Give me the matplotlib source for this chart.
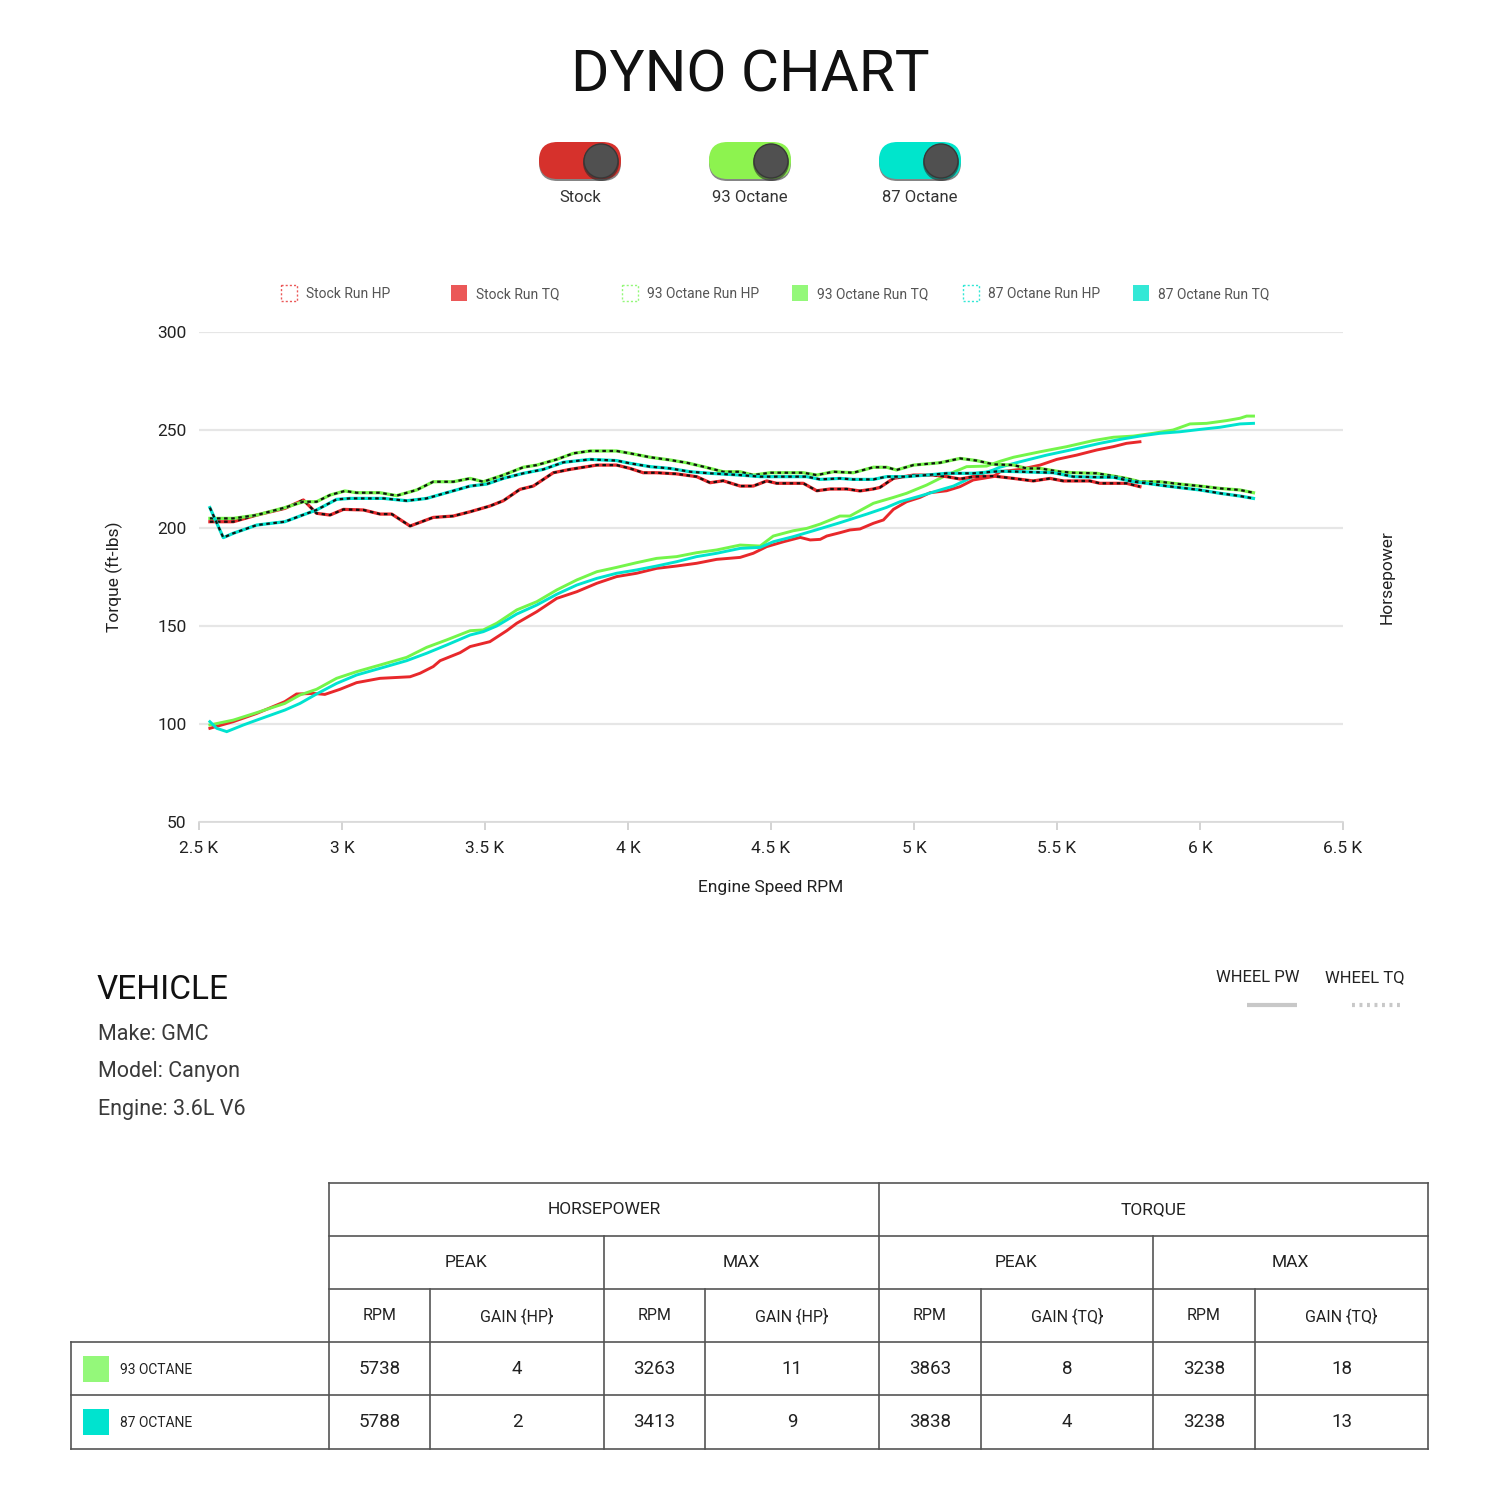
import matplotlib
matplotlib.use("Agg")
import matplotlib.pyplot as plt
from matplotlib.patches import FancyBboxPatch, Rectangle, Circle

# ── 数据 ──
stock_hp_rpm = [2538, 2620, 2702, 2800, 2865, 2911, 2958, 3005, 3075, 3133,
                3174, 3238, 3319, 3389, 3448, 3517, 3564, 3622, 3669, 3739,
                3797, 3844, 3891, 3960, 4007, 4053, 4100, 4170, 4240, 4287,
                4333, 4392, 4438, 4485, 4520, 4613, 4660, 4707, 4765, 4811,
                4858, 4881, 4928, 4998, 5068, 5114, 5161, 5207, 5277, 5348,
                5417, 5476, 5522, 5615, 5650, 5743, 5790]
stock_hp = [203.2, 203.2, 206.6, 210.0, 214.3, 207.5, 206.6, 209.5, 209.2, 207.1,
            207.1, 201.0, 205.4, 206.1, 208.3, 211.2, 213.9, 219.7, 221.4, 228.2,
            229.9, 231.0, 232.1, 232.1, 230.4, 228.2, 228.2, 227.6, 226.2, 223.1,
            224.1, 221.4, 221.4, 224.0, 222.8, 222.8, 219.0, 219.9, 219.9, 218.9,
            219.9, 220.7, 225.3, 227.0, 227.0, 226.2, 225.0, 226.2, 226.5, 225.3,
            224.0, 225.3, 224.0, 224.0, 222.8, 222.8, 221.1]

stock_tq_rpm = [2538, 2620, 2702, 2800, 2841, 2900, 2940, 2993, 3051, 3133,
                3238, 3273, 3319, 3343, 3413, 3448, 3517, 3576, 3611, 3681,
                3751, 3821, 3891, 3960, 4030, 4100, 4170, 4240, 4310, 4392,
                4438, 4485, 4544, 4602, 4637, 4672, 4695, 4741, 4776, 4811,
                4858, 4893, 4928, 4974, 5021, 5056, 5114, 5161, 5207, 5277,
                5301, 5371, 5441, 5499, 5569, 5639, 5697, 5743, 5790]
stock_tq = [97.8, 101.2, 105.4, 111.4, 115.3, 115.6, 115.1, 117.7, 121.1, 123.3,
            124.1, 125.9, 129.3, 132.3, 136.4, 139.5, 142.0, 147.6, 151.4, 157.3,
            164.1, 167.5, 171.8, 175.2, 176.9, 179.4, 180.6, 182.0, 184.0, 185.0,
            187.1, 190.5, 193.0, 195.2, 193.9, 194.2, 195.9, 197.6, 199.0, 199.5,
            202.4, 204.1, 209.5, 213.4, 215.6, 218.0, 219.0, 221.1, 224.5, 226.2,
            228.7, 229.9, 232.1, 235.0, 237.2, 239.8, 241.5, 243.2, 244.0]

oct93_hp_rpm = [2538, 2620, 2702, 2800, 2865, 2911, 2958, 3010, 3051, 3133,
                3191, 3261, 3319, 3389, 3448, 3494, 3564, 3634, 3681, 3751,
                3809, 3867, 3960, 4007, 4077, 4147, 4205, 4263, 4333, 4392,
                4438, 4497, 4613, 4660, 4718, 4788, 4858, 4904, 4939, 4998,
                5091, 5161, 5219, 5277, 5348, 5394, 5441, 5511, 5557, 5639,
                5697, 5743, 5790, 5860, 5930, 6000, 6070, 6140, 6187]
oct93_hp = [204.9, 204.9, 206.6, 210.4, 213.4, 213.4, 216.8, 218.9, 218.0, 218.0,
            216.5, 219.4, 223.6, 223.6, 225.3, 223.6, 227.0, 231.0, 232.1, 235.0,
            238.1, 239.3, 239.3, 238.1, 236.1, 234.7, 233.3, 231.3, 228.7, 228.7,
            227.0, 228.2, 228.2, 227.0, 228.7, 228.2, 231.0, 231.0, 229.6, 232.1,
            233.3, 235.5, 234.4, 232.5, 232.1, 230.4, 230.4, 228.7, 228.2, 227.9,
            226.5, 225.3, 223.6, 223.6, 222.4, 221.4, 220.2, 219.4, 218.0]

oct93_tq_rpm = [2538, 2620, 2702, 2800, 2853, 2911, 2981, 3051, 3133, 3226,
                3296, 3366, 3448, 3494, 3541, 3611, 3681, 3751, 3821, 3891,
                3960, 4030, 4100, 4170, 4240, 4310, 4392, 4462, 4508, 4578,
                4625, 4672, 4741, 4776, 4858, 4928, 4974, 5044, 5114, 5184,
                5254, 5300, 5348, 5441, 5534, 5627, 5697, 5767, 5836, 5906,
                5965, 6023, 6093, 6140, 6163, 6187]
oct93_tq = [99.5, 102.0, 105.8, 110.5, 114.8, 117.7, 123.3, 126.7, 130.1, 134.0,
            139.1, 142.9, 147.6, 148.0, 151.4, 158.2, 162.4, 168.4, 173.5, 177.7,
            179.9, 182.3, 184.5, 185.4, 187.4, 188.8, 191.3, 190.8, 195.9, 198.6,
            199.8, 202.0, 206.1, 206.1, 212.6, 215.6, 217.7, 221.9, 227.0, 231.3,
            231.6, 234.0, 236.1, 238.9, 241.5, 244.6, 246.3, 246.9, 248.3, 250.0,
            253.1, 253.4, 254.8, 256.0, 257.1, 257.1]

oct87_hp_rpm = [2538, 2585, 2620, 2702, 2800, 2853, 2911, 2981, 3028, 3145,
                3226, 3296, 3366, 3448, 3506, 3564, 3634, 3704, 3774, 3867,
                3960, 4007, 4077, 4147, 4217, 4287, 4392, 4462, 4625, 4672,
                4741, 4788, 4858, 4904, 4974, 5044, 5114, 5207, 5301, 5371,
                5487, 5557, 5650, 5697, 5767, 5813, 5883, 5953, 6000, 6070,
                6140, 6187]
oct87_hp = [210.4, 195.1, 197.3, 201.5, 203.2, 206.1, 209.2, 214.6, 215.1, 215.1,
            213.9, 215.1, 218.0, 221.4, 222.4, 225.3, 227.9, 229.9, 233.5, 235.0,
            234.4, 233.0, 231.3, 230.4, 228.7, 227.9, 227.0, 226.2, 226.2, 224.8,
            225.3, 224.8, 224.8, 226.2, 226.2, 227.0, 227.9, 227.9, 229.0, 228.7,
            228.2, 226.2, 225.9, 225.9, 223.6, 222.8, 221.4, 220.2, 219.4, 217.7,
            216.3, 215.1]

oct87_tq_rpm = [2538, 2562, 2597, 2655, 2702, 2800, 2853, 2911, 2981, 3051,
                3133, 3226, 3296, 3366, 3448, 3494, 3541, 3611, 3681, 3751,
                3821, 3891, 3960, 4030, 4100, 4170, 4240, 4310, 4392, 4462,
                4508, 4578, 4648, 4741, 4835, 4904, 4951, 5021, 5091, 5138,
                5207, 5277, 5300, 5371, 5464, 5557, 5650, 5720, 5790, 5860,
                5930, 6000, 6070, 6140, 6187]
oct87_tq = [101.2, 97.8, 96.1, 99.5, 102.0, 107.1, 110.5, 115.3, 120.7, 125.0,
            128.4, 132.3, 136.1, 140.3, 145.4, 147.1, 150.0, 156.1, 160.7, 166.2,
            170.9, 174.3, 176.9, 178.6, 180.6, 182.8, 185.4, 187.1, 189.6, 190.1,
            193.0, 195.6, 198.6, 202.7, 207.1, 210.5, 213.4, 216.3, 219.4, 221.4,
            226.2, 229.6, 231.0, 233.8, 237.2, 240.1, 243.2, 245.2, 246.9, 248.3,
            249.1, 250.3, 251.4, 253.1, 253.4]

x_ticks = [2500, 3000, 3500, 4000, 4500, 5000, 5500, 6000, 6500]
x_tick_labels = ["2.5 K", "3 K", "3.5 K", "4 K", "4.5 K", "5 K", "5.5 K", "6 K", "6.5 K"]
y_ticks = [50, 100, 150, 200, 250, 300]

toggle_labels = ["Stock", "93 Octane", "87 Octane"]
legend_labels = ["Stock Run HP", "Stock Run TQ", "93 Octane Run HP",
                 "93 Octane Run TQ", "87 Octane Run HP", "87 Octane Run TQ"]

vehicle_lines = ["Make: GMC", "Model: Canyon", "Engine: 3.6L V6"]

row_labels = ["93 OCTANE", "87 OCTANE"]
hp_peak_rpm = [5738, 5788]
hp_peak_gain = [4, 2]
hp_max_rpm = [3263, 3413]
hp_max_gain = [11, 9]
tq_peak_rpm = [3863, 3838]
tq_peak_gain = [8, 4]
tq_max_rpm = [3238, 3238]
tq_max_gain = [18, 13]

# ── 样式 ──
RED, GREEN, CYAN = "#E8282B", "#74F54A", "#00E3CF"
RED_L, GREEN_L, CYAN_L = "#EB5858", "#94F87A", "#33E8D6"
PILL = ["#D6312C", "#8DF34F", "#00E5CC"]
TEXT = "#222222"
GRID = "#E6E6E6"
BODY_FONT = ["Roboto", "DejaVu Sans"]

plt.rcParams["font.family"] = BODY_FONT

fig = plt.figure(figsize=(15, 15), dpi=100)
fig.set_facecolor("white")

# 像素坐标的覆盖层
ov = fig.add_axes([0, 0, 1, 1])
ov.set_xlim(0, 1500)
ov.set_ylim(1500, 0)
ov.axis("off")
ov.patch.set_visible(False)

# ── 标题 ──
ov.text(750, 76, "DYNO CHART", fontsize=42, color="#111111", ha="center",
        va="center")

# ── 开关 ──
for i, lab in enumerate(toggle_labels):
    cx = 580 + i * 170
    shadow = FancyBboxPatch((cx - 41 + 18.5, 144 + 18.5), 82 - 37, 0,
                            boxstyle="round,pad=18.5", facecolor="#222222",
                            edgecolor="none", alpha=0.55)
    ov.add_patch(shadow)
    pill = FancyBboxPatch((cx - 41 + 18.5, 142 + 18.5), 82 - 37, 0,
                          boxstyle="round,pad=18.5", facecolor=PILL[i],
                          edgecolor="none")
    ov.add_patch(pill)
    ov.add_patch(Circle((cx + 21, 163), 18, facecolor="#2a2a2a", edgecolor="none", alpha=0.6))
    ov.add_patch(Circle((cx + 21, 161), 17, facecolor="#505050", edgecolor="#383838", lw=1))
    ov.text(cx, 198, lab, fontsize=12, color="#333333", ha="center", va="center")

# ── 图例 ──
leg_colors = [RED_L, RED_L, GREEN_L, GREEN_L, CYAN_L, CYAN_L]
for i, lab in enumerate(legend_labels):
    x0 = 281 + i * 170.4
    if i % 2 == 0:
        ov.add_patch(Rectangle((x0, 285), 16, 16, facecolor="none",
                               edgecolor=leg_colors[i], lw=1, linestyle=(0, (1.5, 1.5))))
    else:
        ov.add_patch(Rectangle((x0, 285), 16, 16, facecolor=leg_colors[i],
                               edgecolor="none"))
    ov.text(x0 + 25, 294, lab, fontsize=10, color="#555555", ha="left",
            va="center")

# ── 主图 ──
ax = fig.add_axes([199 / 1500, 1 - 822 / 1500, (1343 - 199) / 1500, (822 - 332) / 1500])
ax.set_xlim(2500, 6500)
ax.set_ylim(50, 300)
ax.set_yticks(y_ticks)
ax.set_xticks(x_ticks)
ax.set_xticklabels(x_tick_labels)
ax.grid(axis="y", color=GRID, lw=1.6)
ax.set_axisbelow(True)
for s in ["top", "right", "left"]:
    ax.spines[s].set_visible(False)
ax.spines["bottom"].set_color("#D8D8D8")
ax.spines["bottom"].set_linewidth(1.2)
ax.tick_params(axis="y", length=0, pad=9, labelsize=12.5, labelcolor=TEXT)
ax.tick_params(axis="x", length=6, width=1.2, color="#CCCCCC", pad=8,
               labelsize=12.5, labelcolor=TEXT)

series_tq = [(stock_tq_rpm, stock_tq, RED), (oct93_tq_rpm, oct93_tq, GREEN),
             (oct87_tq_rpm, oct87_tq, CYAN)]
series_hp = [(stock_hp_rpm, stock_hp, RED), (oct93_hp_rpm, oct93_hp, GREEN),
             (oct87_hp_rpm, oct87_hp, CYAN)]
for rpm, val, col in series_tq:
    ax.plot(rpm, val, color=col, lw=2.1, solid_joinstyle="miter")
for rpm, val, col in series_hp:
    ax.plot(rpm, val, color=col, lw=2.3)
    ax.plot(rpm, val, color="#111111", lw=1.6, linestyle=(0, (1.6, 1.6)))

ax.set_xlabel("Engine Speed RPM", fontsize=12.5, color=TEXT, labelpad=17)
ov.text(114, 577, "Torque (ft-lbs)", fontsize=12.5, color=TEXT, rotation=90,
        ha="center", va="center")
ov.text(1387, 577, "Horsepower", fontsize=12.5, color=TEXT, rotation=90,
        ha="center", va="center")

# ── 车辆信息 ──
ov.text(97, 990, "VEHICLE", fontsize=24, color="#111111", ha="left",
        va="center")
for i, line in enumerate(vehicle_lines):
    ov.text(98, 1034 + i * 37.5, line, fontsize=15.5, color="#3a3a3a",
            ha="left", va="center")

ov.text(1258, 978, "WHEEL PW", fontsize=12, color="#222222", ha="center",
        va="center")
ov.text(1365, 978, "WHEEL TQ", fontsize=12, color="#222222", ha="center",
        va="center")
ov.plot([1247, 1297], [1005, 1005], color="#C8C8C8", lw=3, solid_capstyle="butt")
ov.plot([1352, 1404], [1005, 1005], color="#C8C8C8", lw=3,
        linestyle=(0, (0.7, 1.1)), dash_capstyle="butt")

# ── 表格 ──
LC, LW = "#555555", 1.2
col_x = [329, 430, 604, 705, 879, 981, 1153, 1255, 1428]
row_y = [1183, 1236, 1289, 1342, 1395, 1449]

for y in row_y[:3]:
    ov.plot([col_x[0], col_x[-1]], [y, y], color=LC, lw=LW)
for y in row_y[3:]:
    ov.plot([71, col_x[-1]], [y, y], color=LC, lw=LW)
ov.plot([71, 71], [row_y[3], row_y[-1]], color=LC, lw=LW)
for x in [col_x[0], col_x[4], col_x[8]]:
    ov.plot([x, x], [row_y[0], row_y[-1]], color=LC, lw=LW)
for x in [col_x[2], col_x[6]]:
    ov.plot([x, x], [row_y[1], row_y[-1]], color=LC, lw=LW)
for x in [col_x[1], col_x[3], col_x[5], col_x[7]]:
    ov.plot([x, x], [row_y[2], row_y[-1]], color=LC, lw=LW)


def mid(a, b):
    return (a + b) / 2


hdr_kw = dict(fontsize=12.5, color=TEXT, ha="center", va="center")
ov.text(mid(col_x[0], col_x[4]), mid(row_y[0], row_y[1]), "HORSEPOWER", **hdr_kw)
ov.text(mid(col_x[4], col_x[8]), mid(row_y[0], row_y[1]), "TORQUE", **hdr_kw)
for k, lab in enumerate(["PEAK", "MAX", "PEAK", "MAX"]):
    ov.text(mid(col_x[2 * k], col_x[2 * k + 2]), mid(row_y[1], row_y[2]), lab, **hdr_kw)
sub = ["RPM", "GAIN {HP}", "RPM", "GAIN {HP}", "RPM", "GAIN {TQ}", "RPM", "GAIN {TQ}"]
for k, lab in enumerate(sub):
    ov.text(mid(col_x[k], col_x[k + 1]), mid(row_y[2], row_y[3]), lab,
            fontsize=11.5, color=TEXT, ha="center", va="center")

row_colors = [GREEN_L, CYAN]
cols = [hp_peak_rpm, hp_peak_gain, hp_max_rpm, hp_max_gain,
        tq_peak_rpm, tq_peak_gain, tq_max_rpm, tq_max_gain]
for r, lab in enumerate(row_labels):
    yc = mid(row_y[3 + r], row_y[4 + r])
    ov.add_patch(Rectangle((83, yc - 13), 26, 26, facecolor=row_colors[r], edgecolor="none"))
    ov.text(120, yc + 1, lab, fontsize=10, color=TEXT, ha="left", va="center")
    for k, c in enumerate(cols):
        ov.text(mid(col_x[k], col_x[k + 1]), yc, str(c[r]), fontsize=13.5,
                color=TEXT, ha="center", va="center")

fig.savefig("out.png", dpi=100, facecolor="white")
